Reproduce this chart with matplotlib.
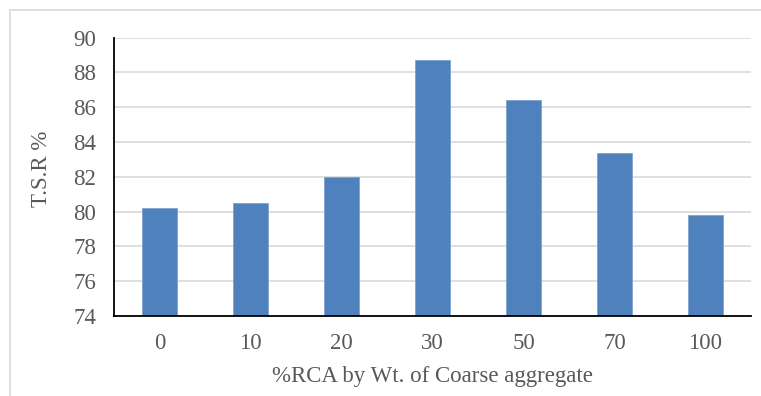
import matplotlib
matplotlib.use("Agg")
import matplotlib.pyplot as plt
from matplotlib.lines import Line2D

# data
categories = ["0", "10", "20", "30", "50", "70", "100"]
tsr_values = [80.2, 80.5, 82.0, 88.7, 86.4, 83.4, 79.8]
y_ticks = [74, 76, 78, 80, 82, 84, 86, 88, 90]

plt.rcParams['font.family'] = ['Liberation Serif', 'DejaVu Serif']

fig = plt.figure(figsize=(7.61, 3.96), dpi=100)
ax = fig.add_axes([0.1498, 0.202, 0.8371, 0.7028])

# light chart-area border (left and top only visible)
fig.add_artist(Line2D([10 / 761, 10 / 761], [0, 1 - 10 / 396], color="#d9d9d9", lw=1.2))
fig.add_artist(Line2D([10 / 761, 1], [1 - 10 / 396, 1 - 10 / 396], color="#d9d9d9", lw=1.2))

x = range(len(categories))
ax.bar(x, tsr_values, width=0.39, color="#4f81bd", edgecolor="#7ea3d1", linewidth=0.6, zorder=3)

ax.set_ylim(74, 90)
ax.set_xlim(-0.5, len(categories) - 0.5)
ax.set_yticks(y_ticks)
ax.set_xticks(list(x))
ax.set_xticklabels(categories)
ax.grid(axis="y", color="#d9d9d9", linewidth=1.2, zorder=0)

for side in ["top", "right"]:
    ax.spines[side].set_visible(False)
for side in ["left", "bottom"]:
    ax.spines[side].set_color("black")
    ax.spines[side].set_linewidth(1.3)
    ax.spines[side].set_zorder(4)

ax.tick_params(axis="both", length=0, labelsize=16.5, labelcolor="#595959")
ax.tick_params(axis="y", pad=13)
ax.tick_params(axis="x", pad=12)

ax.set_ylabel("T.S.R %", fontsize=16.5, color="#595959")
ax.yaxis.set_label_coords(-0.098, 0.53)
ax.set_xlabel("%RCA by Wt. of Coarse aggregate", fontsize=16.5, color="#595959", labelpad=9)

fig.savefig("out.png", dpi=100)
